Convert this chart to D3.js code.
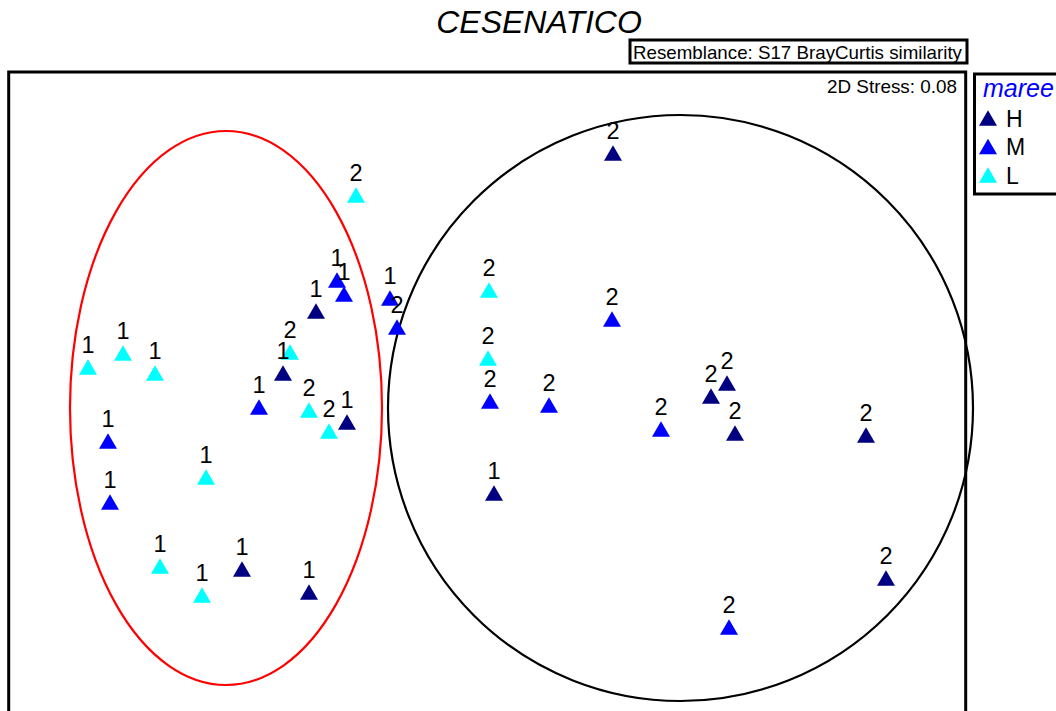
<!DOCTYPE html>
<html>
<head>
<meta charset="utf-8">
<script src="https://cdn.jsdelivr.net/npm/d3@7"></script>
<style>
  html, body { margin: 0; padding: 0; background: #fff; }
  svg { display: block; font-family: "Liberation Sans", Arial, sans-serif; }
</style>
</head>
<body>
<svg id="chart" width="1056" height="711"></svg>
<script>
// ---- Data (nMDS coordinates) ----
const groups = ["H", "M", "L"];
const groupColors = ["#000080", "#0000FF", "#00FFFF"];

const pointX = [
  -4.00, -3.65, -3.33, -3.80, -3.78, -2.82, -3.28, -2.86, -2.46, -1.79,
  -1.32, -1.51, -1.44, -1.72, -0.98, -0.91, -1.98, -2.05, -2.29, -1.79,
  -1.59, -1.41,
   1.25,  0.01,  1.24,  0.00,  0.02,  0.61,  1.73,  2.23,  2.39,  2.47,
   3.78,  0.06,  3.98,  2.41
];
const pointY = [
   0.33,  0.47,  0.27, -0.41, -1.02, -0.77, -1.66, -1.95, -1.69, -1.92,
   2.05,  1.20,  1.06,  0.89,  1.02,  0.73,  0.48,  0.27, -0.07, -0.10,
  -0.31, -0.22,
   2.47,  1.10,  0.81,  0.42, -0.01, -0.05, -0.29,  0.04,  0.17, -0.33,
  -0.35, -0.93, -1.78, -2.27
];
const pointGroup = [
  "L", "L", "L", "M", "M", "L", "L", "L", "H", "H",
  "L", "M", "M", "H", "M", "M", "L", "H", "M", "L",
  "L", "H",
  "H", "L", "M", "L", "M", "M", "M", "H", "H", "H",
  "H", "H", "H", "M"
];
const pointLabel = [
  "1", "1", "1", "1", "1", "1", "1", "1", "1", "1",
  "2", "1", "1", "1", "1", "2", "2", "1", "1", "2",
  "2", "1",
  "2", "2", "2", "2", "2", "2", "2", "2", "2", "2",
  "2", "1", "2", "2"
];

// cluster outlines: centre x, centre y, radius x, radius y, colour
const clusterCX = [-2.62, 1.925];
const clusterCY = [-0.08, -0.08];
const clusterRX = [1.56, 2.925];
const clusterRY = [2.77, 2.93];
const clusterColor = ["#FF0000", "#000000"];

const titleText = "CESENATICO";
const resemblanceText = "Resemblance: S17 BrayCurtis similarity";
const stressText = "2D Stress: 0.08";
const legendTitle = "maree";

// ---- Drawing ----
const svg = d3.select("#chart");

const x = d3.scaleLinear().domain([-4.8, 4.8]).range([8, 968]);
const y = d3.scaleLinear().domain([4.0, -3.2]).range([0, 720]);
const color = d3.scaleOrdinal().domain(groups).range(groupColors);

// title
svg.append("text")
  .attr("x", 539).attr("y", 33)
  .attr("text-anchor", "middle")
  .attr("font-size", 32).attr("font-style", "italic")
  .text(titleText);

// resemblance box
svg.append("rect")
  .attr("x", 630).attr("y", 40).attr("width", 337).attr("height", 23)
  .attr("fill", "none").attr("stroke", "#000").attr("stroke-width", 3);
svg.append("text")
  .attr("x", 633).attr("y", 58.5)
  .attr("font-size", 19)
  .attr("textLength", 329).attr("lengthAdjust", "spacingAndGlyphs")
  .text(resemblanceText);

// plot frame
svg.append("rect")
  .attr("x", 8.7).attr("y", 72).attr("width", 957).attr("height", 660)
  .attr("fill", "none").attr("stroke", "#000").attr("stroke-width", 3);

svg.append("text")
  .attr("x", 957).attr("y", 93)
  .attr("text-anchor", "end")
  .attr("font-size", 19)
  .attr("textLength", 130).attr("lengthAdjust", "spacingAndGlyphs")
  .text(stressText);

// cluster ellipses
const clusters = clusterCX.map((cx, i) => ({cx, cy: clusterCY[i], rx: clusterRX[i], ry: clusterRY[i], c: clusterColor[i]}));
svg.append("g").selectAll("ellipse").data(clusters).join("ellipse")
  .attr("cx", d => x(d.cx)).attr("cy", d => y(d.cy))
  .attr("rx", d => x(d.cx + d.rx) - x(d.cx))
  .attr("ry", d => y(d.cy - d.ry) - y(d.cy))
  .attr("fill", "none").attr("stroke", d => d.c).attr("stroke-width", 2.2);

// points
const pts = pointX.map((px, i) => ({x: px, y: pointY[i], g: pointGroup[i], label: pointLabel[i]}));
const triW = 18;
const ty = -triW / (2 * Math.sqrt(3));
const triSize = ty * ty * 3 * Math.sqrt(3);
const tri = d3.symbol(d3.symbolTriangle, triSize);
const triOffset = -ty / 2; // shift so bbox centre sits on the data point

const gp = svg.append("g");
gp.selectAll("path").data(pts).join("path")
  .attr("d", tri)
  .attr("transform", d => `translate(${x(d.x)},${y(d.y) + triOffset})`)
  .attr("fill", d => color(d.g));

gp.selectAll("text").data(pts).join("text")
  .attr("x", d => x(d.x))
  .attr("y", d => y(d.y) - 14)
  .attr("text-anchor", "middle")
  .attr("font-size", 23.5)
  .text(d => d.label);

// legend
svg.append("rect")
  .attr("x", 974.5).attr("y", 74).attr("width", 100).attr("height", 120)
  .attr("fill", "none").attr("stroke", "#000").attr("stroke-width", 3);
svg.append("text")
  .attr("x", 983).attr("y", 97)
  .attr("font-size", 25).attr("font-style", "italic")
  .attr("fill", "#0000FF")
  .text(legendTitle);
const legY = d3.scalePoint().domain(groups).range([118, 175]);
const lg = svg.append("g").selectAll("g").data(groups).join("g");
lg.append("path")
  .attr("d", tri)
  .attr("transform", d => `translate(988,${legY(d) + triOffset})`)
  .attr("fill", d => color(d));
lg.append("text")
  .attr("x", 1006).attr("y", d => legY(d) + 8.5)
  .attr("font-size", 23)
  .text(d => d);
</script>
</body>
</html>
